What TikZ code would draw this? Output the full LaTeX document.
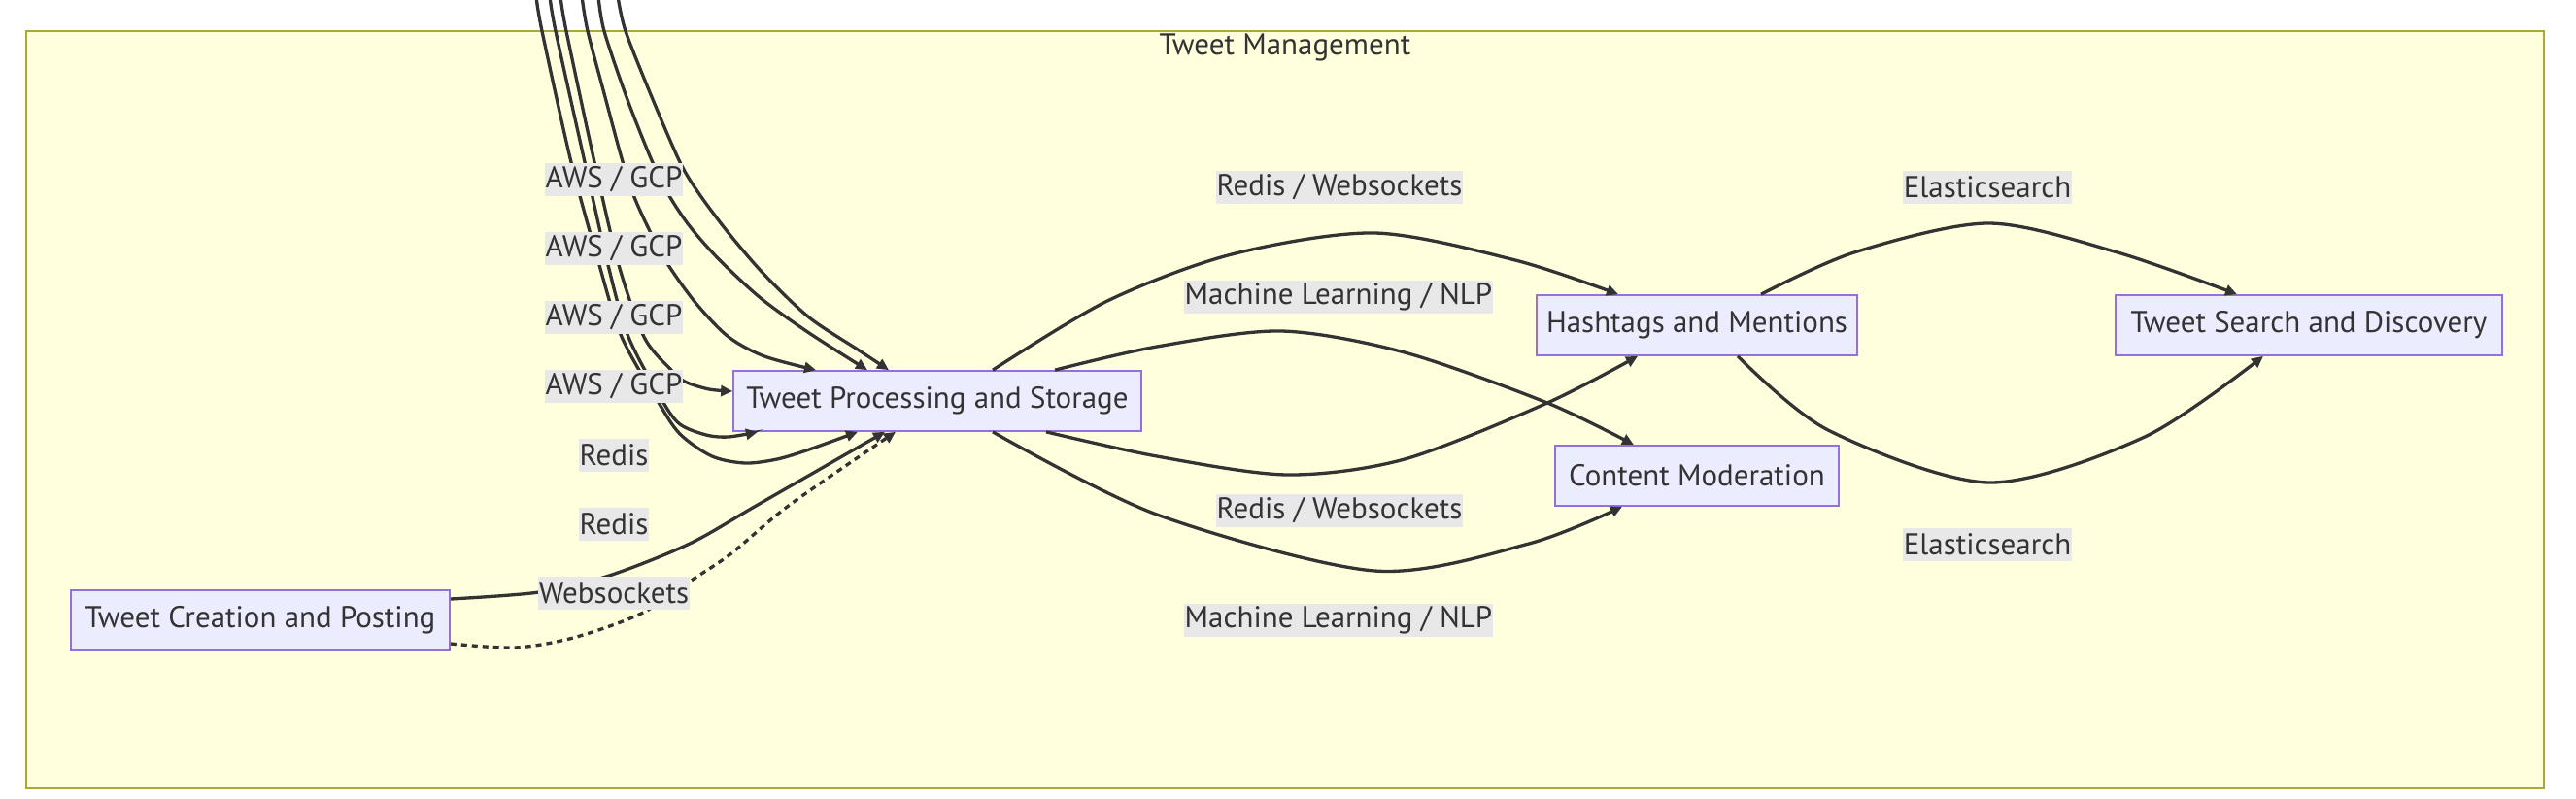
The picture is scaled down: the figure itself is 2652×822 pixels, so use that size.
\documentclass[tikz,border=0pt]{standalone}
\usepackage{fontspec}
\setmainfont{PT Sans}
\usetikzlibrary{arrows.meta,calc}
\definecolor{clusterfill}{HTML}{FFFFDE}
\definecolor{clusterline}{HTML}{AAAA33}
\definecolor{boxfill}{HTML}{ECECFF}
\definecolor{boxline}{HTML}{9370DB}
\definecolor{ink}{HTML}{333333}
\definecolor{tagfill}{HTML}{E8E8E8}
\begin{document}
\begin{tikzpicture}[x=1pt, y=-1pt, >={Triangle[length=12pt,width=11pt]},
  every node/.style={font=\fontsize{31}{34}\selectfont, text=ink},
  box/.style={draw=boxline, fill=boxfill, line width=1.7pt, minimum height=62pt, inner sep=0pt},
  tag/.style={fill=tagfill, inner xsep=1pt, inner ysep=0pt, minimum height=34pt},
  flow/.style={->, draw=ink, line width=3.3pt},
  dotflow/.style={flow, dash pattern=on 6pt off 5pt}]
  \useasboundingbox (0,0) rectangle (2652,822);
  \draw[clusterline, fill=clusterfill, line width=1.7pt] (27,32) rectangle (2619,812);
  \node (title) at (1323,49) {Tweet Management};

  \node[box, minimum width=390pt] (create) at (268,639) {Tweet Creation and Posting};
  \node[box, minimum width=420pt] (proc)   at (965,413) {Tweet Processing and Storage};
  \node[box, minimum width=330pt] (hash)   at (1747,335) {Hashtags and Mentions};
  \node[box, minimum width=292pt] (moder)  at (1747,490) {Content Moderation};
  \node[box, minimum width=398pt] (search) at (2377,335) {Tweet Search and Discovery};

  \coordinate (in1) at (552,-4);
  \coordinate (in2) at (566,-4);
  \coordinate (in3) at (577,-4);
  \coordinate (in4) at (599,-4);
  \coordinate (in5) at (616,-4);
  \coordinate (in6) at (636,-4);

  \draw[flow] plot[smooth] coordinates {(in1) (558,32) (588,167) (617,273) (640,347) (677,413) (700,447) (733,470) (767,477) (800,473) (833,463) ($(proc.south)+(-82,0)$)};
  \draw[flow] plot[smooth] coordinates {(in2) (572,32) (602,167) (626,273) (647,347) (682,413) (700,437) (727,448) (750,450) ($(proc.south)+(-185,0)$)};
  \draw[flow] plot[smooth] coordinates {(in3) (583,32) (612,167) (637,273) (663,347) (690,380) (705,393) (730,401) ($(proc.west)+(0,-10)$)};
  \draw[flow] plot[smooth] coordinates {(in4) (605,32) (623,100) (640,163) (653,203) (670,240) (688,273) (717,313) (750,347) (787,367) ($(proc.north)+(-125,0)$)};
  \draw[flow] plot[smooth] coordinates {(in5) (622,32) (645,100) (670,163) (688,200) (710,233) (740,267) (783,307) (833,343) ($(proc.north)+(-72,0)$)};
  \draw[flow] plot[smooth] coordinates {(in6) (644,32) (671,100) (700,167) (720,200) (750,240) (787,283) (833,327) (883,360) ($(proc.north)+(-50,0)$)};

  \draw[flow] plot[smooth] coordinates {($(create.east)+(0,-22)$) (555,610) (627,593) (710,560) (780,520) ($(proc.south)+(-54,0)$)};
  \draw[dotflow] plot[smooth] coordinates {($(create.east)+(0,24)$) (530,667) (590,657) (660,632) (713,597) (753,570) (813,520) ($(proc.south)+(-43,0)$)};

  \draw[flow] plot[smooth] coordinates {($(proc.north)+(57,0)$) (1140,310) (1268,262) (1415,240) (1560,268) ($(hash.north)+(-81,0)$)};
  \draw[flow] plot[smooth] coordinates {($(proc.north)+(121,0)$) (1191,357) (1319,341) (1446,363) (1593,415) ($(moder.north)+(-65,0)$)};
  \draw[flow] plot[smooth] coordinates {($(proc.south)+(112,0)$) (1191,470) (1325,489) (1446,473) (1593,415) ($(hash.south)+(-61,0)$)};
  \draw[flow] plot[smooth] coordinates {($(proc.south)+(57,0)$) (1191,530) (1415,588) (1574,560) ($(moder.south)+(-77,0)$)};
  \draw[flow] plot[smooth] coordinates {($(hash.north)+(66,0)$) (1909,260) (2047,230) (2180,260) ($(search.north)+(-74,0)$)};
  \draw[flow] plot[smooth] coordinates {($(hash.south)+(42,0)$) (1882,443) (2047,497) (2208,450) ($(search.south)+(-47,0)$)};

  \node[tag] (aws1) at (632,185) {AWS / GCP};
  \node[tag] (aws2) at (632,256) {AWS / GCP};
  \node[tag] (aws3) at (632,327) {AWS / GCP};
  \node[tag] (aws4) at (632,398) {AWS / GCP};
  \node[tag] (redis1) at (632,469) {Redis};
  \node[tag] (redis2) at (632,540) {Redis};
  \node[tag] (websock) at (632,611) {Websockets};
  \node[tag] (rw1) at (1379,193) {Redis / Websockets};
  \node[tag] (rw2) at (1379,526) {Redis / Websockets};
  \node[tag] (ml1) at (1378,306) {Machine Learning / NLP};
  \node[tag] (ml2) at (1378,639) {Machine Learning / NLP};
  \node[tag] (es1) at (2046,193) {Elasticsearch};
  \node[tag] (es2) at (2046,561) {Elasticsearch};
\end{tikzpicture}
\end{document}
